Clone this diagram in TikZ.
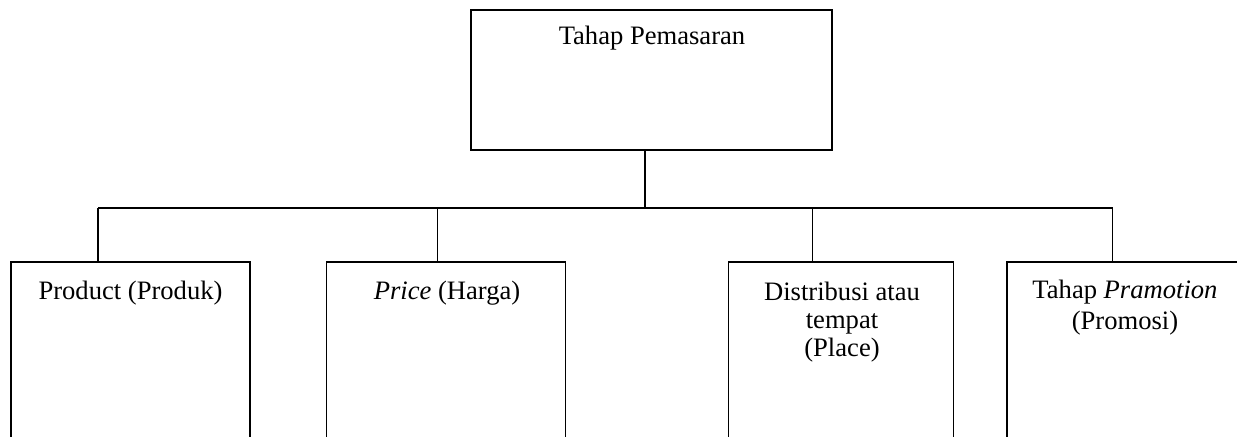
\documentclass[tikz,border=0pt]{standalone}
\usepackage{fontspec}
\setmainfont{Liberation Serif}
\usetikzlibrary{calc}
\begin{document}
\begin{tikzpicture}[x=0.5pt,y=-0.5pt,
  box/.style={draw=black,line width=0.7pt,rectangle,inner sep=0pt,fill=none},
  lbl/.style={anchor=north,inner sep=0pt,align=center,font=\fontsize{13.3pt}{15pt}\selectfont},
  conn/.style={draw=black,line width=0.7pt}]
\clip (0,0) rectangle (1237,436);
\fill[white] (0,0) rectangle (1237,436);
% boxes
\node[box,minimum width=180.5pt,minimum height=70pt] (top) at (651.5,80) {};
\node[box,minimum width=119.5pt,minimum height=92pt] (b1) at (130.5,354) {};
\node[box,minimum width=119.5pt,minimum height=92pt] (b2) at (446.2,354) {};
\node[box,minimum width=112.5pt,minimum height=92pt] (b3) at (841.2,354) {};
\node[box,minimum width=118pt,minimum height=92pt] (b4) at (1125,354) {};
% labels
\node[lbl] (t0) at ($(top.north)+(0.5,16.5)$) {Tahap Pemasaran};
\node[lbl] (t1) at ($(b1.north)+(0,19.5)$) {Product (Produk)};
\node[lbl] (t2) at ($(b2.north)+(0.8,19.5)$) {\textit{Price} (Harga)};
\node[lbl,font=\fontsize{13.3pt}{14pt}\selectfont] (t3) at ($(b3.north)+(0.8,20)$) {Distribusi atau\\tempat\\(Place)};
\node[lbl,font=\fontsize{13.3pt}{15.5pt}\selectfont] (t4) at ($(b4.north)+(0,18.5)$) {Tahap \textit{Pramotion}\\(Promosi)};
% bus coordinates
\coordinate (j0) at (645,208);
\coordinate (j1) at (98,208);
\coordinate (j2) at (437.5,208);
\coordinate (j3) at (812.7,208);
\coordinate (j4) at (1112.7,208);
% connectors
\draw[conn] (top.south -| j0) -- (j0);
\draw[conn] (j1) -- (j4);
\draw[conn] (j1) -- (j1 |- b1.north);
\draw[conn] (j2) -- (j2 |- b2.north);
\draw[conn] (j3) -- (j3 |- b3.north);
\draw[conn] (j4) -- (j4 |- b4.north);
\end{tikzpicture}
\end{document}
